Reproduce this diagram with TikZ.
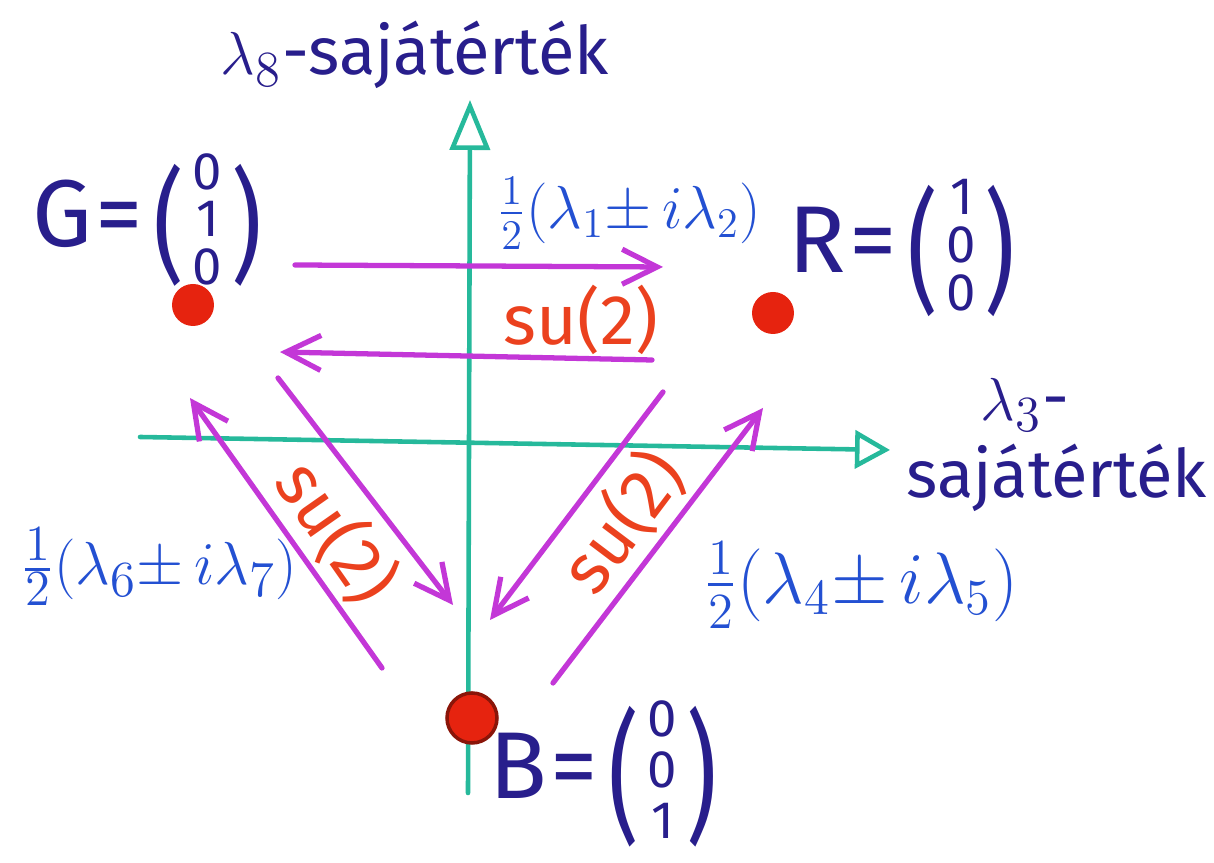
\documentclass[tikz,border=0pt]{standalone}
\usepackage{amsmath}
\usepackage{graphicx}
\usepackage{fontspec}
\setmainfont{Fira Sans}
\usetikzlibrary{arrows.meta}
\definecolor{axisgreen}{RGB}{38,185,155}
\definecolor{genviolet}{RGB}{195,55,215}
\definecolor{labred}{RGB}{235,65,30}
\definecolor{labblue}{RGB}{35,80,210}
\definecolor{inkblue}{RGB}{40,30,140}
\definecolor{dotred}{RGB}{230,35,15}
% column vector: tall thin parentheses, small entries
\newcommand{\colvec}[5][11.5]{$\vcenter{\hbox{\scalebox{1}[#2]{(}}}%
  \vcenter{\hbox{\fontsize{15}{#1}\selectfont
  \begin{tabular}{@{\,}c@{\,}}#3\\#4\\#5\end{tabular}}}%
  \vcenter{\hbox{\scalebox{1}[#2]{)}}}$}
\newcommand{\halfop}[2]{$\tfrac12(\lambda_{#1}{\pm}\,i\lambda_{#2})$}
\begin{document}
\begin{tikzpicture}[
  axis/.style={line width=1.3pt, axisgreen, line cap=round},
  gen/.style={line width=1.5pt, genviolet, line cap=round,
    -{Straight Barb[length=3.5mm,width=3.5mm]}},
  dot/.style={circle, fill=dotred, minimum size=4.2mm, inner sep=0pt},
  state/.style={inkblue, font=\fontsize{27}{30}\selectfont, inner sep=0pt},
  axlab/.style={inkblue, font=\fontsize{19}{22}\selectfont},
  oplab/.style={labblue, font=\fontsize{18}{22}\selectfont},
  sulab/.style={labred, font=\fontsize{20}{24}\selectfont}]
  \useasboundingbox (0,0) rectangle (12.14,8.63);
  % axes
  \coordinate (ybot) at (4.68,0.70);
  \coordinate (ytop) at (4.70,7.63);
  \coordinate (xleft) at (1.40,4.26);
  \coordinate (xright) at (8.90,4.13);
  \draw[axis, -{Triangle[open,length=5mm,width=4mm]}] (ybot) -- (ytop);
  \draw[axis, -{Triangle[open,length=3.5mm,width=3.8mm]}] (xleft) -- (xright);
  \node[axlab] (ylab) at (4.15,8.08) {$\lambda_8$-sajátérték};
  \node[axlab] (xlab) at (10.25,4.58) {$\lambda_3$-};
  \node[axlab] (xlab2) at (10.57,3.85) {sajátérték};
  % colour states
  \node[dot] (g) at (1.93,5.58) {};
  \node[dot] (r) at (7.73,5.50) {};
  \node[dot, draw=dotred!60!black, line width=1pt, minimum size=5mm] (b) at (4.72,1.45) {};
  \node[state] (glab) at (1.47,6.38) {G\hspace{1pt}=\hspace{3pt}\colvec{1.3}{0}{1}{0}};
  \node[state] (rlab) at (9.02,6.12) {R\hspace{1pt}=\hspace{3pt}\colvec{1.4}{1}{0}{0}};
  \node[state] (blab) at (6.03,0.86) {B\hspace{1pt}=\hspace{3pt}\colvec[14.5]{1.5}{0}{0}{1}};
  % G <-> R
  \coordinate (gr1) at (2.95,5.98);
  \coordinate (gr2) at (6.63,5.96);
  \coordinate (rg1) at (6.52,5.03);
  \coordinate (rg2) at (2.80,5.11);
  \draw[gen] (gr1) -- (gr2);
  \draw[gen] (rg1) -- (rg2);
  \node[oplab] (l12) at (6.29,6.50) {\halfop{1}{2}};
  \node[sulab] (su1) at (5.81,5.43) {su(2)};
  % G <-> B
  \coordinate (bg1) at (3.82,1.95);
  \coordinate (bg2) at (1.90,4.65);
  \coordinate (gb1) at (2.78,4.85);
  \coordinate (gb2) at (4.53,2.58);
  \draw[gen] (bg1) -- (bg2);
  \draw[gen] (gb1) -- (gb2);
  \node[oplab, font=\fontsize{19}{24}\selectfont] (l67) at (1.59,2.96) {\halfop{6}{7}};
  \node[sulab, rotate=-55] (su2) at (3.37,3.31) {su(2)};
  % R <-> B
  \coordinate (rb1) at (6.63,4.71);
  \coordinate (rb2) at (4.90,2.43);
  \coordinate (br1) at (5.53,1.80);
  \coordinate (br2) at (7.63,4.55);
  \draw[gen] (rb1) -- (rb2);
  \draw[gen] (br1) -- (br2);
  \node[oplab, font=\fontsize{21}{24}\selectfont] (l45) at (8.61,2.78) {\halfop{4}{5}};
  \node[sulab, rotate=53] (su3) at (6.22,3.41) {su(2)};
\end{tikzpicture}
\end{document}
